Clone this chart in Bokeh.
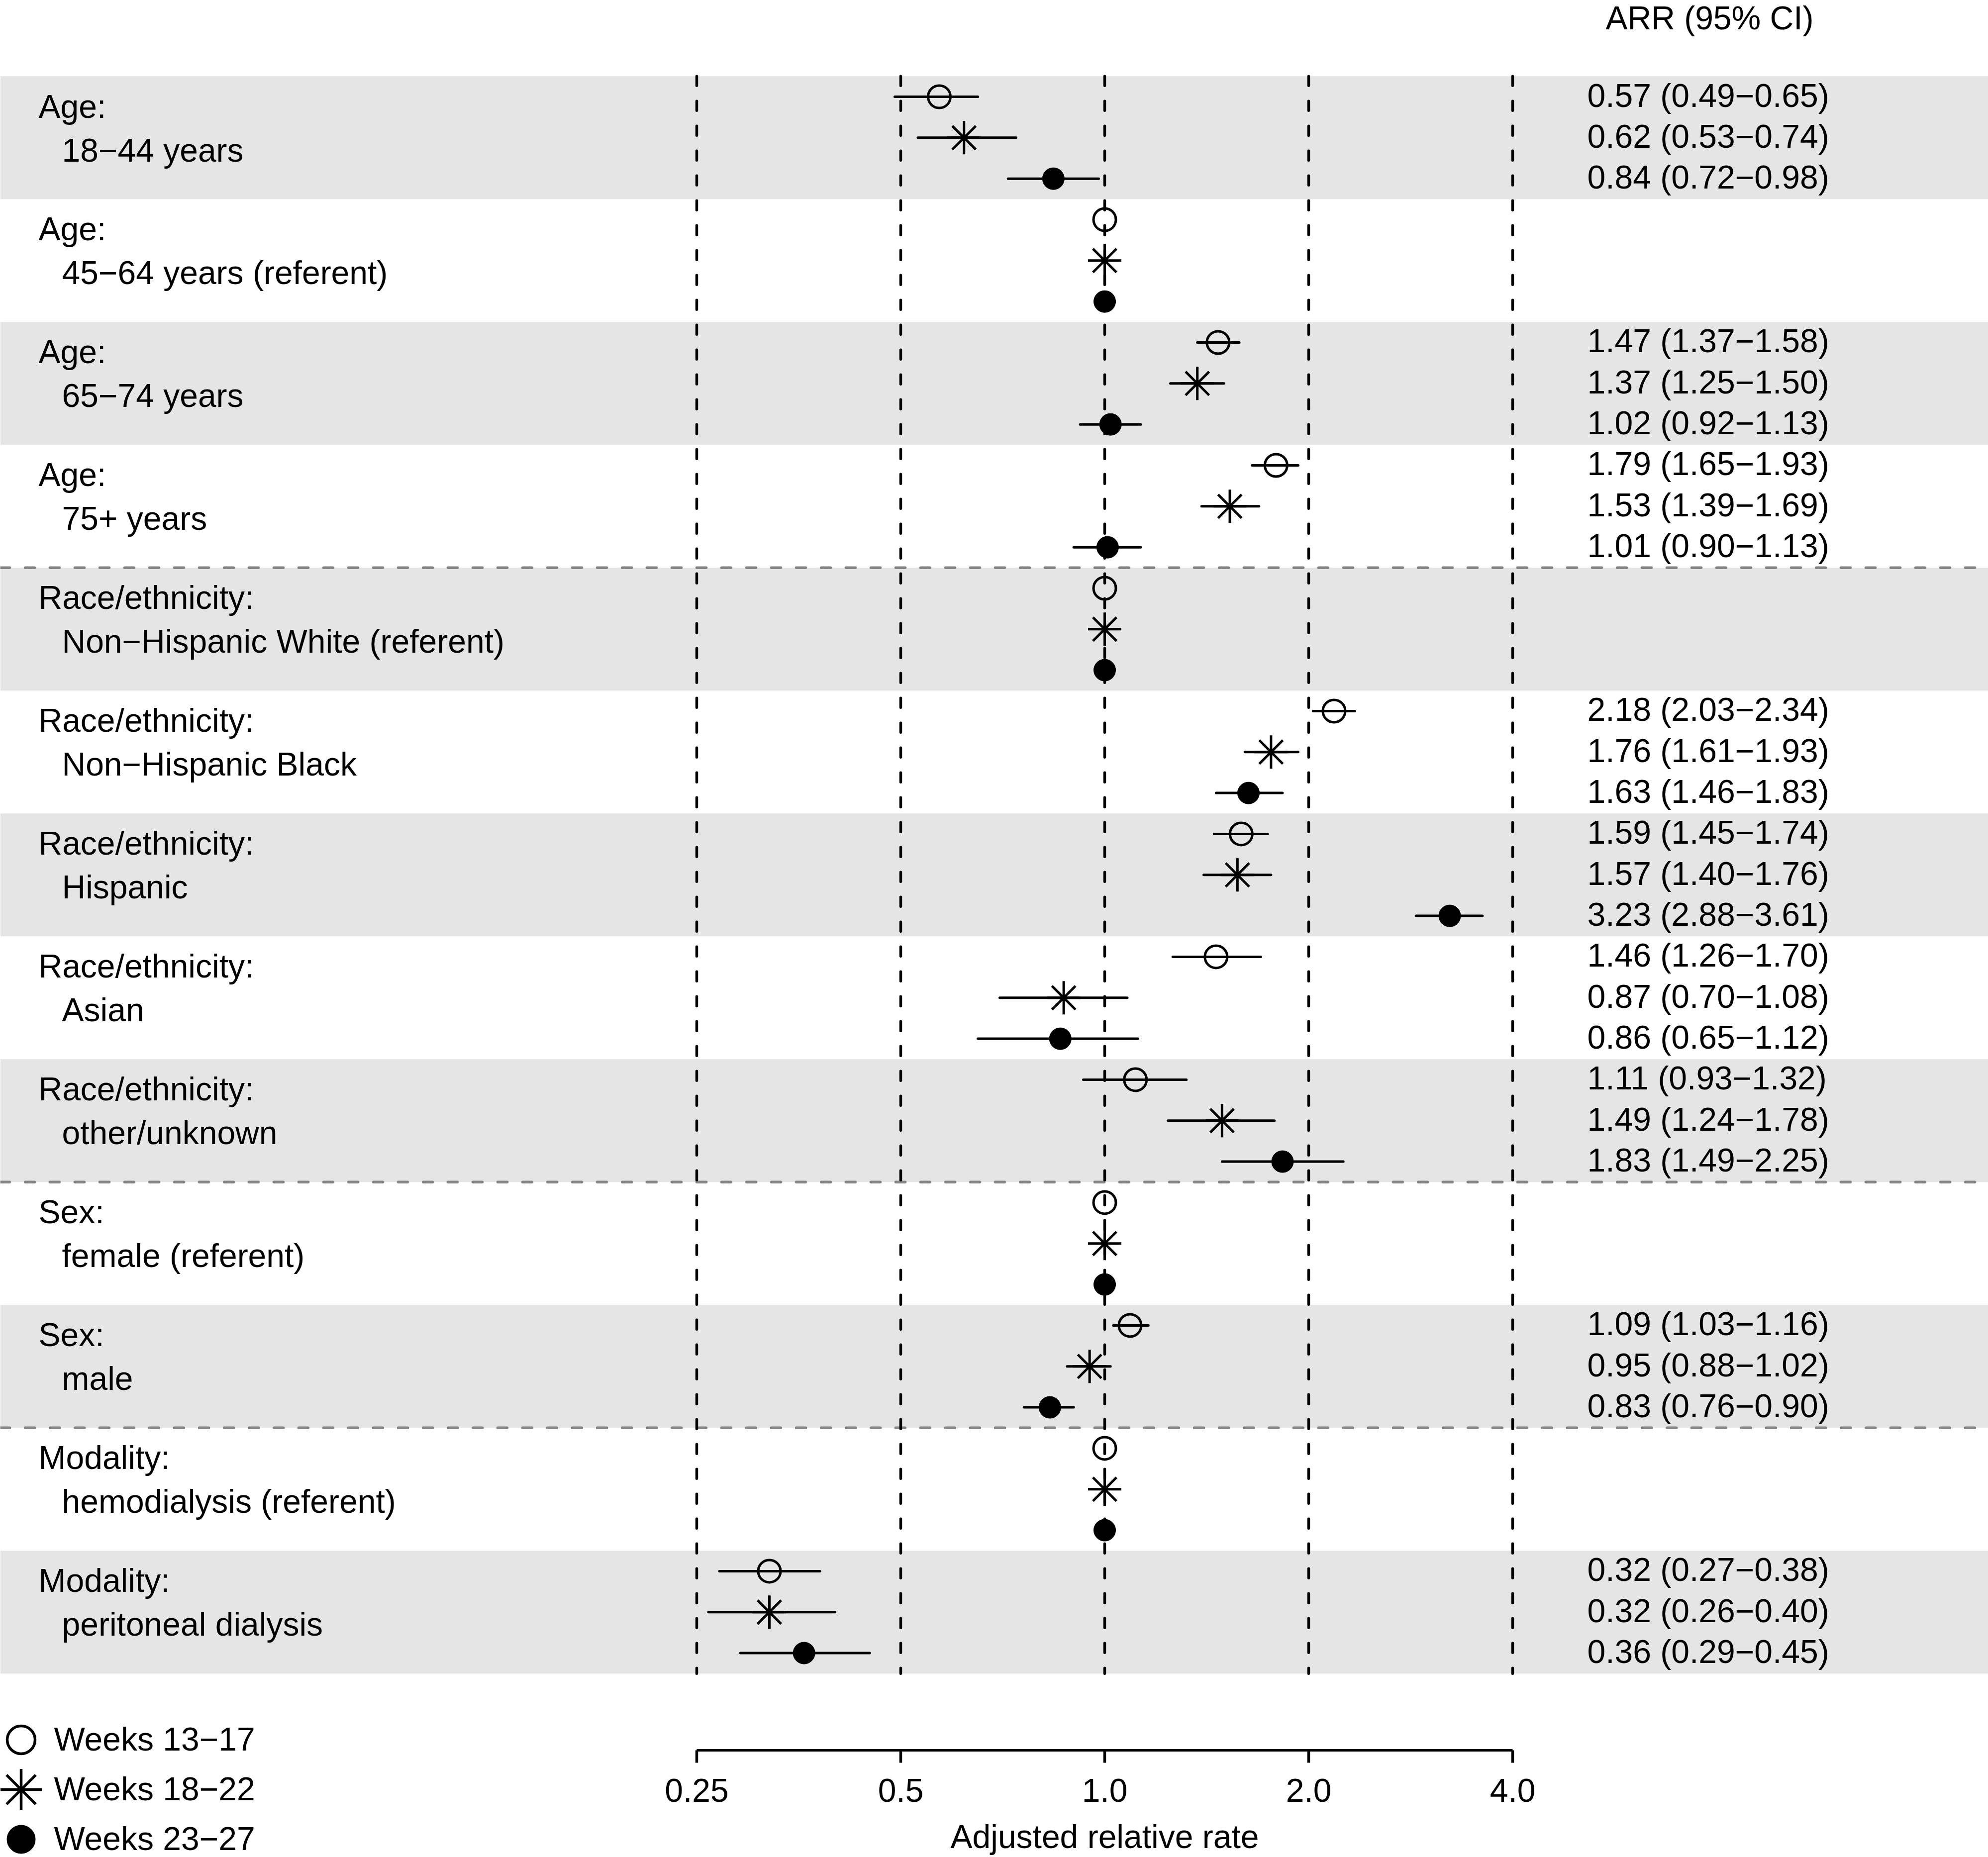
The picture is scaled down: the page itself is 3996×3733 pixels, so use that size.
from bokeh.plotting import figure
from bokeh.models import Range1d, LogAxis, FixedTicker, CustomJSTickFormatter
from bokeh.core.properties import value
from bokeh.embed import file_html
from bokeh.resources import INLINE

# ---------------- data ----------------
group_titles = ["Age:", "Age:", "Age:", "Age:",
                "Race/ethnicity:", "Race/ethnicity:", "Race/ethnicity:", "Race/ethnicity:", "Race/ethnicity:",
                "Sex:", "Sex:", "Modality:", "Modality:"]
group_levels = ["18\u221244 years", "45\u221264 years (referent)", "65\u221274 years", "75+ years",
                "Non\u2212Hispanic White (referent)", "Non\u2212Hispanic Black", "Hispanic", "Asian",
                "other/unknown", "female (referent)", "male", "hemodialysis (referent)",
                "peritoneal dialysis"]
series_names = ["Weeks 13\u221217", "Weeks 18\u221222", "Weeks 23\u221227"]

# None = referent category (no interval)
est_w13 = [0.57, 1.00, 1.47, 1.79, 1.00, 2.18, 1.59, 1.46, 1.11, 1.00, 1.09, 1.00, 0.32]
lo_w13 = [0.49, None, 1.37, 1.65, None, 2.03, 1.45, 1.26, 0.93, None, 1.03, None, 0.27]
hi_w13 = [0.65, None, 1.58, 1.93, None, 2.34, 1.74, 1.70, 1.32, None, 1.16, None, 0.38]

est_w18 = [0.62, 1.00, 1.37, 1.53, 1.00, 1.76, 1.57, 0.87, 1.49, 1.00, 0.95, 1.00, 0.32]
lo_w18 = [0.53, None, 1.25, 1.39, None, 1.61, 1.40, 0.70, 1.24, None, 0.88, None, 0.26]
hi_w18 = [0.74, None, 1.50, 1.69, None, 1.93, 1.76, 1.08, 1.78, None, 1.02, None, 0.40]

est_w23 = [0.84, 1.00, 1.02, 1.01, 1.00, 1.63, 3.23, 0.86, 1.83, 1.00, 0.83, 1.00, 0.36]
lo_w23 = [0.72, None, 0.92, 0.90, None, 1.46, 2.88, 0.65, 1.49, None, 0.76, None, 0.29]
hi_w23 = [0.98, None, 1.13, 1.13, None, 1.83, 3.61, 1.12, 2.25, None, 0.90, None, 0.45]

x_ticks = [0.25, 0.5, 1.0, 2.0, 4.0]
tick_labels = ["0.25", "0.5", "1.0", "2.0", "4.0"]
section_ends = [4, 9, 11]   # dashed separators after these many groups
header_text = "ARR (95% CI)"
x_title = "Adjusted relative rate"

# ---------------- layout ----------------
W, H = 3996, 3733
ROW0, ROW_H = 194.0, 82.33     # canvas y of first row, row spacing
X1, PXD = 2220.0, 410.0        # canvas x of ratio 1.0, px per doubling
BASE_FIX = 24.0                # baseline correction for svg text placement (px)
FONT = value("Liberation Sans")
FS = "66px"


def px2x(px):
    return 2 ** ((px - X1) / PXD)


def py2row(py):
    return (py - ROW0) / ROW_H


def base_row(py):
    return py2row(py - BASE_FIX)


n_groups = len(group_titles)
n_rows = 3 * n_groups

p = figure(width=W, height=H, x_axis_type="log",
           x_range=Range1d(px2x(0), px2x(W)),
           y_range=Range1d(py2row(H), py2row(0)),
           x_axis_location=None, y_axis_location=None,
           toolbar_location=None, output_backend="svg", min_border=0,
           outline_line_color=None, background_fill_color="white",
           border_fill_color="white")
p.xgrid.visible = False
p.ygrid.visible = False

xl, xr = px2x(0), px2x(W)

# alternating bands
band_g = [g for g in range(n_groups) if g % 2 == 0]
p.quad(left=xl, right=xr,
       top=[3 * g - 0.5 for g in band_g], bottom=[3 * g + 2.5 for g in band_g],
       fill_color="#E5E5E5", line_color=None)

# section separators
sep_y = [3 * n - 0.5 for n in section_ends]
p.segment(x0=xl, x1=xr, y0=sep_y, y1=sep_y, line_color="#858585",
          line_width=5.5, line_dash="19 31", line_cap="round")

# vertical reference lines
p.segment(x0=x_ticks, x1=x_ticks, y0=-0.5, y1=n_rows - 0.5, line_color="black",
          line_width=5.5, line_dash="19 31", line_cap="round")

series = [(est_w13, lo_w13, hi_w13), (est_w18, lo_w18, hi_w18), (est_w23, lo_w23, hi_w23)]

# confidence intervals
for k, (est, lo, hi) in enumerate(series):
    gi = [g for g in range(n_groups) if lo[g] is not None]
    rows = [3 * g + k for g in gi]
    p.segment(x0=[lo[g] for g in gi], x1=[hi[g] for g in gi], y0=rows, y1=rows,
              line_color="black", line_width=5, line_cap="round")

# point estimates
styles = [dict(marker="circle", size=45, fill_color=None, line_color="black", line_width=5),
          dict(marker="asterisk", size=67, line_color="black", line_width=5),
          dict(marker="circle", size=44, fill_color="black", line_color="black", line_width=1)]
for k, (est, lo, hi) in enumerate(series):
    p.scatter(x=est, y=[3 * g + k for g in range(n_groups)], **styles[k])

# left group labels (baselines below the group's first row)
gstart_px = [ROW0 + 3 * g * ROW_H for g in range(n_groups)]
p.text(x=px2x(77), y=[base_row(py + 43) for py in gstart_px], text=group_titles,
       text_font=FONT, text_font_size=FS, text_baseline="alphabetic", text_align="left")
p.text(x=px2x(124), y=[base_row(py + 131) for py in gstart_px], text=group_levels,
       text_font=FONT, text_font_size=FS, text_baseline="alphabetic", text_align="left")

# right ARR labels
arr_rows, arr_txt = [], []
for k, (est, lo, hi) in enumerate(series):
    for g in range(n_groups):
        if lo[g] is not None:
            arr_rows.append(3 * g + k)
            arr_txt.append(f"{est[g]:.2f} ({lo[g]:.2f}\u2212{hi[g]:.2f})")
p.text(x=px2x(3190), y=[base_row(ROW0 + r * ROW_H + 21) for r in arr_rows], text=arr_txt,
       text_font=FONT, text_font_size=FS, text_baseline="alphabetic", text_align="left")
p.text(x=[px2x(3436)], y=[base_row(59)], text=[header_text],
       text_font=FONT, text_font_size=FS, text_baseline="alphabetic", text_align="center")

# x axis
ax = LogAxis(ticker=FixedTicker(ticks=x_ticks, minor_ticks=[]),
             formatter=CustomJSTickFormatter(args=dict(t=x_ticks, l=tick_labels),
                                             code="const i = t.indexOf(tick); return i >= 0 ? l[i] : String(tick);"),
             bounds=(x_ticks[0], x_ticks[-1]), fixed_location=py2row(3517.5),
             axis_label=x_title)
ax.axis_line_width = 5
ax.axis_line_color = "black"
ax.major_tick_line_width = 5.5
ax.major_tick_in = 0
ax.major_tick_out = 25
ax.minor_tick_line_color = None
ax.major_label_standoff = 33
ax.major_label_text_font = "Liberation Sans"
ax.major_label_text_font_size = FS
ax.major_label_text_color = "black"
ax.axis_label_text_font = "Liberation Sans"
ax.axis_label_text_font_size = FS
ax.axis_label_text_font_style = "normal"
ax.axis_label_text_color = "black"
ax.axis_label_standoff = 29
p.add_layout(ax, "below")

# legend
leg_py = [3497, 3597, 3697]
leg_styles = [dict(marker="circle", size=56, fill_color=None, line_color="black", line_width=5.5),
              dict(marker="asterisk", size=83, line_color="black", line_width=5.5),
              dict(marker="circle", size=57, fill_color="black", line_color="black", line_width=1)]
for k in range(3):
    p.scatter(x=[px2x(42)], y=[py2row(leg_py[k])], **leg_styles[k])
p.text(x=px2x(108), y=[base_row(py + 22) for py in leg_py], text=series_names,
       text_font=FONT, text_font_size=FS, text_baseline="alphabetic", text_align="left")

open("out.html", "w").write(file_html(p, INLINE))
